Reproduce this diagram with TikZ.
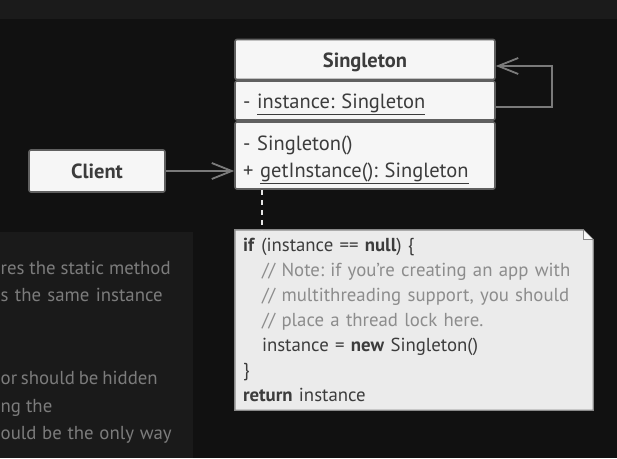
\documentclass[tikz,border=0pt]{standalone}
\usepackage{fontspec}
\setmainfont{PT Sans}
\frenchspacing
\usetikzlibrary{arrows.meta,positioning,calc}
\definecolor{pagebg}{HTML}{111111}
\definecolor{topbg}{HTML}{1B1B1B}
\definecolor{panelbg}{HTML}{1A1A1A}
\definecolor{paneltxt}{HTML}{7C7C7C}
\definecolor{boxfill}{HTML}{F6F6F6}
\definecolor{boxline}{HTML}{606060}
\definecolor{boxtxt}{HTML}{3C3C3C}
\definecolor{notefill}{HTML}{EBEBEB}
\definecolor{noteline}{HTML}{8A8A8A}
\definecolor{cmt}{HTML}{8C8C8C}
\definecolor{arrowc}{HTML}{7A7A7A}
\pgfdeclarelayer{bottom}
\pgfdeclarelayer{background}
\pgfsetlayers{bottom,background,main}
\newcommand{\dn}[2]{\raisebox{-#1}[\height][\depth]{#2}}
\newcommand{\pline}[2]{\makebox[#1][s]{#2}}
\tikzset{
  cls/.style={draw=boxline, line width=1.6pt, fill=boxfill, rounded corners=2pt,
    text=boxtxt, font=\fontsize{20.5}{27}\selectfont, inner xsep=8pt, inner ysep=0pt,
    minimum width=260pt},
  clsleft/.style={cls, align=left, text width=244pt},
  client/.style={cls, minimum width=136pt, minimum height=42pt},
  rel/.style={draw=arrowc, line width=1.8pt, -{Straight Barb[length=20pt,width=16pt,line width=1.8pt]}},
  loopline/.style={draw=arrowc, line width=1.8pt},
  dots/.style={draw=white!90!black, line width=2pt, dash pattern=on 5pt off 5pt},
  notebox/.style={inner xsep=8pt, inner ysep=0pt, minimum width=358pt, minimum height=180pt,
    align=left, text width=342pt, text=boxtxt, font=\fontsize{18.8}{25}\selectfont},
  noteshape/.style={draw=noteline, line width=1.4pt, fill=notefill},
  paneltext/.style={anchor=base west, text=paneltxt, font=\fontsize{18.8}{25}\selectfont, inner sep=0pt},
}
\begin{document}
\begin{tikzpicture}[x=1pt,y=-1pt]
\begin{pgfonlayer}{bottom}
  \fill[pagebg] (0,0) rectangle (617,458);
  \fill[topbg] (0,0) rectangle (617,19);
  \fill[panelbg] (0,232) rectangle (193,458);
\end{pgfonlayer}
\useasboundingbox (0,0) rectangle (617,458);

% left panel text fragments
\node[paneltext] (p1) at (0.5,274) {\pline{170pt}{res the static method}};
\node[paneltext] (p2) at (0.5,301) {\pline{162pt}{s the same instance}};
\node[paneltext] (p3) at (0.5,384) {\pline{157pt}{or should be hidden}};
\node[paneltext] (p4) at (0.5,412) {ng the};
\node[paneltext] (p5) at (0.5,439) {\pline{171pt}{ould be the only way}};

% class
\node[cls, minimum height=40pt] (hdr) at (365,59.5) {\dn{3pt}{\bfseries Singleton}};
\node[clsleft, minimum height=39pt] (attr) at (365,100.5) {\dn{4pt}{- \underline{instance: Singleton}}};
\node[clsleft, minimum height=67pt] (meth) at (365,155.5) {\dn{4pt}{- Singleton()}\\\dn{4pt}{+ \underline{getInstance(): Singleton}}};

% client
\node[client] (cl) at (97,171) {\bfseries Client};
\draw[rel] (cl.east) -- (cl.east -| meth.west);

% self association
\coordinate (lp1) at (552,107);
\coordinate (lp2) at (552,66);
\draw[loopline, rel] (attr.east |- lp1) -- (lp1) -- (lp2) -- (hdr.east |- lp2);

% note
\node[notebox] (note) at (414,320) {%
\textbf{if} (instance == \textbf{null}) \{\\
\hspace*{19pt}{\color{cmt}// Note: if you’re creating an app with}\\
\hspace*{19pt}{\color{cmt}// multithreading support, you should}\\
\hspace*{19pt}{\color{cmt}// place a thread lock here.}\\
\hspace*{19pt}instance = \textbf{new} Singleton()\\
\}\\
\textbf{return} instance};
\begin{pgfonlayer}{background}
  \draw[noteshape] (note.north west) -- ([xshift=-10pt]note.north east)
    -- ([yshift=-10pt]note.north east) -- (note.south east) -- (note.south west) -- cycle;
  \draw[draw=noteline, line width=1pt, fill=white!97!black] ([xshift=-10pt]note.north east)
    -- ([xshift=-10pt,yshift=-10pt]note.north east) -- ([yshift=-10pt]note.north east);
\end{pgfonlayer}

% dotted link
\coordinate (dx) at (262,0);
\draw[dots] (meth.south -| dx) -- (note.north -| dx);
\end{tikzpicture}
\end{document}
